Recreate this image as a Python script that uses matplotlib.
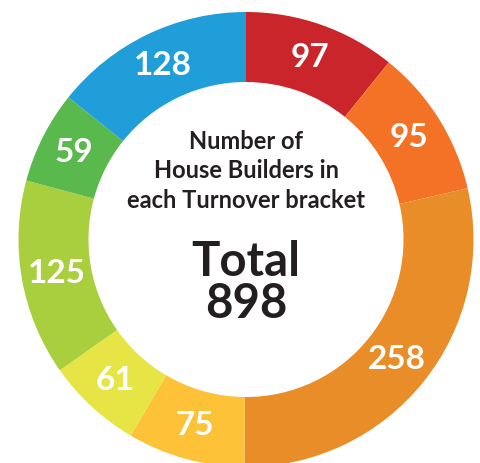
import matplotlib
matplotlib.use("Agg")
import matplotlib.pyplot as plt

# Turnover brackets, clockwise from the top
values = [97, 95, 258, 75, 61, 125, 59, 128]
colors = ["#c9252b", "#f37225", "#e98d28", "#fdc237",
          "#e7e545", "#aacf3e", "#5ab94c", "#1f9ed9"]
title_lines = "Number of\nHouse Builders in\neach Turnover bracket"
total = sum(values)

plt.rcParams["font.family"] = ["Lato", "DejaVu Sans"]

fig = plt.figure(figsize=(4.8, 4.63), dpi=100)
ax = fig.add_axes([0, 0, 1, 1])

cx, cy = 246, 463 - 239.5
outer = 227.5
width = 70

wedges, texts, autotexts = ax.pie(
    values,
    colors=colors,
    startangle=90,
    counterclock=False,
    center=(cx, cy),
    radius=outer,
    frame=True,
    autopct=lambda p: f"{round(p * total / 100)}",
    pctdistance=(outer - width / 2) / outer,
    wedgeprops=dict(width=width, linewidth=0),
    textprops=dict(color="white", fontsize=24, fontweight="bold"),
)

ax.text(cx, 463 - 171, title_lines, ha="center", va="center",
        fontsize=17, fontweight="bold", color="#231f20", linespacing=1.33)
ax.text(cx, 463 - 283, f"Total\n{total}", ha="center", va="center",
        fontsize=34, fontweight="bold", color="#231f20", linespacing=0.95)

ax.set_xlim(0, 480)
ax.set_ylim(0, 463)
ax.set_aspect("equal")
ax.axis("off")

fig.savefig("out.png", dpi=100)
